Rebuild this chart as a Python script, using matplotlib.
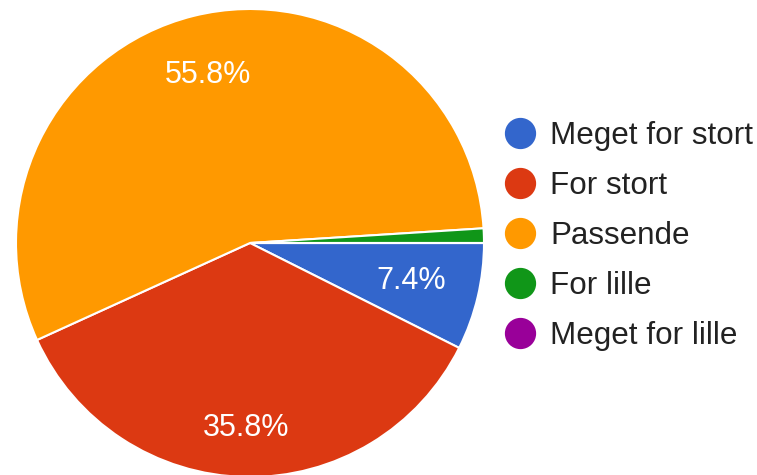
import numpy as np
import matplotlib
matplotlib.use("Agg")
import matplotlib.pyplot as plt
from matplotlib.lines import Line2D

# data
labels = ["Meget for stort", "For stort", "Passende", "For lille", "Meget for lille"]
values = [7.4, 35.8, 55.8, 1.0, 0.0]
colors = ["#3366CC", "#DC3912", "#FF9900", "#109618", "#990099"]
shown_pct = [True, True, True, False, False]
label_dist = [0.71, 0.79, 0.74, 0.7, 0.7]

plt.rcParams["font.family"] = ["Liberation Sans", "DejaVu Sans"]

W, H = 757, 475
fig = plt.figure(figsize=(W / 100, H / 100), dpi=100)
cx, cy, r = 250, 243, 234
ax = fig.add_axes([(cx - r) / W, (H - cy - r) / H, 2 * r / W, 2 * r / H])

wedges, _ = ax.pie(values, colors=colors, startangle=0, counterclock=False,
                   wedgeprops=dict(edgecolor="white", linewidth=1.5))
ax.set_xlim(-1, 1)
ax.set_ylim(-1, 1)
ax.set_aspect("equal")
ax.axis("off")

for w, v, show, d in zip(wedges, values, shown_pct, label_dist):
    if not show:
        continue
    mid = np.deg2rad((w.theta1 + w.theta2) / 2)
    ax.text(d * np.cos(mid), d * np.sin(mid), f"{v:.1f}%", color="white",
            fontsize=22, ha="center", va="center")

handles = [Line2D([], [], marker="o", linestyle="none", markersize=21.5,
                  markerfacecolor=c, markeredgecolor=c) for c in colors]
fig.legend(handles, labels, loc="center left", bbox_to_anchor=(504 / W, 1 - 236 / H),
           frameon=False, fontsize=22.6, labelcolor="#222222", borderpad=0,
           borderaxespad=0, handlelength=1.0, handletextpad=0.48, labelspacing=0.64)

fig.savefig("out.png", dpi=100, facecolor="white")
